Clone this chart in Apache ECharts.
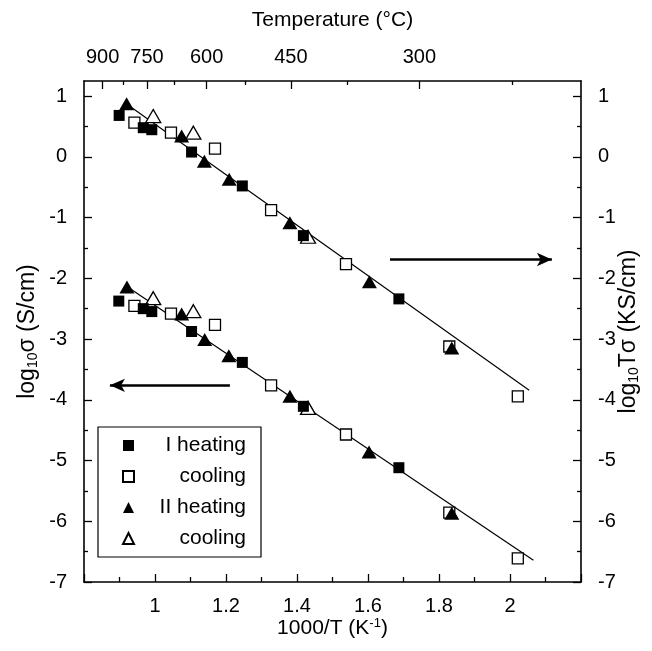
<!DOCTYPE html>
<html>
<head>
<meta charset="utf-8">
<script src="https://cdn.jsdelivr.net/npm/echarts@6/dist/echarts.min.js"></script>
<style>
  html, body { margin: 0; padding: 0; background: #fff; }
  #chart { width: 652px; height: 651px; }
</style>
</head>
<body>
<div id="chart"></div>
<script>
// upper set: log10(T*sigma), read on the right axis
const upperHeatI = [[0.899, 0.683], [0.967, 0.481], [0.991, 0.448], [1.103, 0.080], [1.246, -0.478], [1.418, -1.296], [1.687, -2.338]];
const upperCoolI = [[0.942, 0.563], [1.045, 0.399], [1.169, 0.136], [1.327, -0.877], [1.538, -1.764], [1.829, -3.122], [2.022, -3.943]];
const upperHeatII = [[0.920, 0.875], [1.075, 0.343], [1.139, -0.072], [1.209, -0.368], [1.380, -1.085], [1.604, -2.054], [1.836, -3.148]];
const upperCoolII = [[0.995, 0.672], [1.108, 0.399], [1.431, -1.315]];
const upperFit = [[0.925, 0.85], [2.054, -3.844]];

// lower set: log10(sigma), read on the left axis
const lowerHeatI = [[0.898, -2.374], [0.967, -2.499], [0.991, -2.547], [1.103, -2.875], [1.246, -3.384], [1.418, -4.107], [1.687, -5.118]];
const lowerCoolI = [[0.942, -2.453], [1.045, -2.580], [1.169, -2.765], [1.327, -3.762], [1.538, -4.571], [1.829, -5.857], [2.022, -6.612]];
const lowerHeatII = [[0.921, -2.141], [1.075, -2.585], [1.140, -3.007], [1.208, -3.274], [1.380, -3.943], [1.603, -4.859], [1.836, -5.868]];
const lowerCoolII = [[0.995, -2.327], [1.108, -2.540], [1.431, -4.133]];
const lowerFit = [[0.925, -2.15], [2.066, -6.64]];

// arrows pointing at the axis each set belongs to
const arrowRight = [[1.662, -1.69], [2.118, -1.69]];
const arrowLeft = [[1.211, -3.762], [0.873, -3.762]];

// ticks
const xLabels = [1, 1.2, 1.4, 1.6, 1.8, 2];
const yTicks = [-7, -6, -5, -4, -3, -2, -1, 0, 1];
const yMinorTicks = [-6.5, -5.5, -4.5, -3.5, -2.5, -1.5, -0.5, 0.5];
const tempMajor = [900, 750, 600, 450, 300];
const tempMinor = [825, 675, 525, 375, 225];

const legendNames = ["I heating", "I cooling", "II heating", "II cooling"];
const legendLabels = ["I heating", "cooling", "II heating", "cooling"];

const FONT = "Liberation Sans, Arial, sans-serif";
const BLACK = "#000";
const toInvT = (t) => 1000 / (t + 273.15);

const chart = echarts.init(document.getElementById("chart"), null, { renderer: "canvas" });

const frameLine = { show: true, onZero: false, lineStyle: { color: BLACK, width: 1.6 } };
const noLine = { show: false, onZero: false };
const tickLabel = { color: BLACK, fontSize: 20, fontFamily: FONT };

// y axis builder (main + minor for each side)
function yAxisPair(position, withName) {
  const main = {
    type: "value",
    position: position,
    min: -7,
    max: 1.25,
    axisLine: frameLine,
    splitLine: { show: false },
    axisTick: { inside: true, length: 8, customValues: yTicks, lineStyle: { color: BLACK, width: 1.3 } },
    axisLabel: { ...tickLabel, margin: 17, customValues: yTicks },
    name: withName.text,
    nameLocation: "middle",
    nameGap: withName.gap,
    nameRotate: 90,
    nameMoveOverlap: false,
    nameTextStyle: {
      color: BLACK,
      fontFamily: FONT,
      rich: {
        a: { fontSize: 23, fontFamily: FONT, color: BLACK },
        s: { fontSize: 14, fontFamily: FONT, color: BLACK, verticalAlign: "bottom", padding: [10, 0, 0, 0] },
      },
    },
  };
  const minor = {
    type: "value",
    position: position,
    min: -7,
    max: 1.25,
    axisLine: noLine,
    splitLine: { show: false },
    axisLabel: { show: false },
    axisTick: { inside: true, length: 4, customValues: yMinorTicks, lineStyle: { color: BLACK, width: 1.3 } },
  };
  return [main, minor];
}

const [yLeft, yLeftMinor] = yAxisPair("left", { text: "{a|log}{s|10}{a|σ (S/cm)}", gap: 44 });
const [yRight, yRightMinor] = yAxisPair("right", { text: "{a|log}{s|10}{a|Tσ (KS/cm)}", gap: 36 });

function scatter(name, data, yIdx, symbol, filled) {
  return {
    name: name,
    type: "scatter",
    yAxisIndex: yIdx,
    data: data,
    symbol: symbol,
    symbolSize: symbol === "triangle" ? [15, 13] : 11,
    itemStyle: filled
      ? { color: BLACK, opacity: 1 }
      : { color: "#fff", borderColor: BLACK, borderWidth: 1.3, opacity: 1 },
    z: filled ? 4 : 3,
  };
}

function arrowMark(pts) {
  return {
    silent: true,
    symbol: ["none", "arrow"],
    symbolSize: [10, 15],
    label: { show: false },
    lineStyle: { color: BLACK, width: 2.5, type: "solid" },
    data: [[{ coord: pts[0] }, { coord: pts[1] }]],
  };
}

const option = {
  backgroundColor: "#fff",
  animation: false,
  grid: { left: 84, right: 71, top: 81, bottom: 69, containLabel: false, outerBoundsMode: "none" },
  xAxis: [
    {
      type: "value",
      position: "bottom",
      min: 0.8,
      max: 2.2,
      interval: 0.2,
      axisLine: frameLine,
      splitLine: { show: false },
      axisTick: { inside: true, length: 8, lineStyle: { color: BLACK, width: 1.3 } },
      minorTick: { show: true, splitNumber: 2, length: 5, lineStyle: { color: BLACK, width: 1.3 } },
      axisLabel: { ...tickLabel, margin: 14, customValues: xLabels, formatter: (v) => String(Math.round(v * 10) / 10) },
      name: "{a|1000/T (K}{p|-1}{a|)}",
      nameLocation: "middle",
      nameGap: 35,
      nameMoveOverlap: false,
      nameTextStyle: {
        color: BLACK,
        fontFamily: FONT,
        rich: {
          a: { fontSize: 21, fontFamily: FONT, color: BLACK },
          p: { fontSize: 13, fontFamily: FONT, color: BLACK, verticalAlign: "top", padding: [0, 0, 9, 0] },
        },
      },
    },
    {
      type: "value",
      position: "top",
      min: 0.8,
      max: 2.2,
      axisLine: frameLine,
      splitLine: { show: false },
      axisTick: { inside: true, length: 8, customValues: tempMajor.map(toInvT), lineStyle: { color: BLACK, width: 1.3 } },
      axisLabel: {
        ...tickLabel,
        margin: 14,
        customValues: tempMajor.map(toInvT),
        formatter: (v) => String(Math.round(1000 / v - 273.15)),
      },
      name: "Temperature (°C)",
      nameLocation: "middle",
      nameGap: 50,
      nameMoveOverlap: false,
      nameTextStyle: { color: BLACK, fontSize: 21, fontFamily: FONT },
    },
    {
      type: "value",
      position: "top",
      min: 0.8,
      max: 2.2,
      axisLine: noLine,
      splitLine: { show: false },
      axisLabel: { show: false },
      axisTick: { inside: true, length: 4, customValues: tempMinor.map(toInvT), lineStyle: { color: BLACK, width: 1.3 } },
    },
  ],
  yAxis: [yLeft, yLeftMinor, yRight, yRightMinor],
  legend: {
    orient: "vertical",
    left: 98,
    top: 427,
    padding: [8, 15, 8, 24],
    itemGap: 10,
    itemWidth: 11,
    itemHeight: 11,
    borderColor: BLACK,
    borderWidth: 1.2,
    backgroundColor: "#fff",
    selectedMode: false,
    data: legendNames.map((n, i) => ({ name: n, icon: i < 2 ? "rect" : "triangle" })),
    formatter: (n) => "{t|" + legendLabels[legendNames.indexOf(n)] + "}",
    textStyle: {
      rich: { t: { width: 107, align: "right", fontSize: 21, fontFamily: FONT, color: BLACK } },
    },
  },
  series: [
    {
      name: "upper fit",
      type: "line",
      yAxisIndex: 2,
      data: upperFit,
      symbol: "none",
      lineStyle: { color: BLACK, width: 1.2 },
      markLine: arrowMark(arrowRight),
      z: 2,
    },
    {
      name: "lower fit",
      type: "line",
      yAxisIndex: 0,
      data: lowerFit,
      symbol: "none",
      lineStyle: { color: BLACK, width: 1.2 },
      markLine: arrowMark(arrowLeft),
      z: 2,
    },
    scatter("I cooling", upperCoolI, 2, "rect", false),
    scatter("II cooling", upperCoolII, 2, "triangle", false),
    scatter("I heating", upperHeatI, 2, "rect", true),
    scatter("II heating", upperHeatII, 2, "triangle", true),
    scatter("I cooling", lowerCoolI, 0, "rect", false),
    scatter("II cooling", lowerCoolII, 0, "triangle", false),
    scatter("I heating", lowerHeatI, 0, "rect", true),
    scatter("II heating", lowerHeatII, 0, "triangle", true),
  ],
};

chart.setOption(option);
</script>
</body>
</html>
